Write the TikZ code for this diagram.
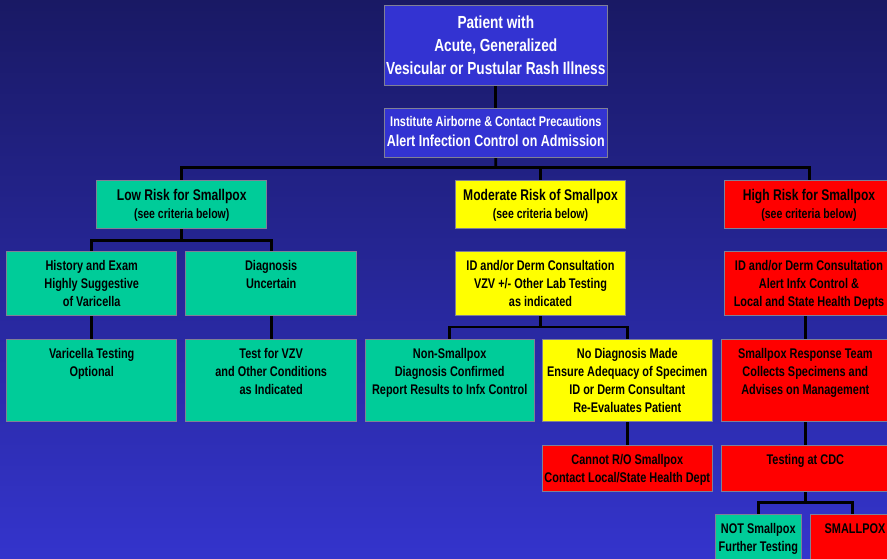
\documentclass[tikz,border=0pt]{standalone}
\usepackage{fontspec}
\newfontfamily\nar[FakeStretch=0.78]{Liberation Sans}
\definecolor{bgtop}{RGB}{25,25,100}
\definecolor{bgbot}{RGB}{52,52,204}
\definecolor{bluebox}{RGB}{51,51,210}
\definecolor{teal}{RGB}{0,204,153}
\definecolor{yel}{RGB}{255,255,0}
\definecolor{redb}{RGB}{255,0,0}
\definecolor{edge}{RGB}{128,128,150}
\newcommand\fsz[2]{\fontsize{#1}{#2}\selectfont\nar\bfseries}
\begin{document}
\begin{tikzpicture}[x=1pt,y=-1pt,
  box/.style={draw=edge, line width=0.8pt, inner sep=0pt, outer sep=0pt, anchor=north west},
  txt/.style={anchor=base, align=center, inner sep=0pt, text=black},
  conn/.style={line width=2.8pt, black},
  child/.style={font=\fsz{14}{18}}]
\useasboundingbox (0,0) rectangle (887,558);
\shade[top color=bgtop, bottom color=bgbot] (0,0) rectangle (887,558);

% boxes
\node[box, fill=bluebox, minimum width=223.7pt, minimum height=79.5pt] (top) at (384,5.5) {};
\node[box, fill=bluebox, minimum width=223.7pt, minimum height=49pt] (inst) at (384,108) {};
\node[box, fill=teal, minimum width=170pt, minimum height=47.5pt] (low) at (96.7,180.7) {};
\node[box, fill=yel, minimum width=170.4pt, minimum height=47.5pt] (mod) at (455.3,180.7) {};
\node[box, fill=redb, minimum width=170pt, minimum height=47.5pt] (high) at (724.3,180.7) {};
\node[box, fill=teal, minimum width=170pt, minimum height=64pt] (hist) at (6.7,251.7) {};
\node[box, fill=teal, minimum width=171pt, minimum height=64pt] (diagu) at (185.7,251.7) {};
\node[box, fill=yel, minimum width=170.4pt, minimum height=64pt] (modc) at (455.3,251.7) {};
\node[box, fill=redb, minimum width=170pt, minimum height=64pt] (highc) at (724.3,251.7) {};
\node[box, fill=teal, minimum width=170pt, minimum height=82.7pt] (var) at (6.7,339) {};
\node[box, fill=teal, minimum width=171pt, minimum height=82.7pt] (testv) at (185.7,339) {};
\node[box, fill=teal, minimum width=169.3pt, minimum height=82.7pt] (nons) at (365,339) {};
\node[box, fill=yel, minimum width=169.3pt, minimum height=82.7pt] (nod) at (542.7,339) {};
\node[box, fill=redb, minimum width=168pt, minimum height=82.7pt] (srt) at (721.3,339) {};
\node[box, fill=redb, minimum width=169.3pt, minimum height=46pt] (cannot) at (542.7,445) {};
\node[box, fill=redb, minimum width=168pt, minimum height=46pt] (cdc) at (721.3,445) {};
\node[box, fill=teal, minimum width=85.3pt, minimum height=50pt] (nots) at (715.7,514.3) {};
\node[box, fill=redb, minimum width=85.3pt, minimum height=50pt] (smallpox) at (810,514.3) {};

% connectors
\coordinate (bus) at (495.8,167.5);
\draw[conn] (top.south) -- (inst.north);
\draw[conn] (inst.south) -- (bus);
\draw[conn] (low.north) -- ++(0,-13.2) -| (high.north);
\draw[conn] (mod.north) -- (mod.north |- bus);
\draw[conn] (low.south) -- ++(0,12) coordinate (lowbus);
\draw[conn] (hist.north) |- (lowbus) -| (diagu.north);
\draw[conn] (hist.south) -- (var.north);
\draw[conn] (diagu.south) -- (testv.north);
\draw[conn] (modc.south) -- ++(0,11.3) coordinate (modbus);
\draw[conn] (nons.north) |- (modbus) -| (nod.north);
\draw[conn] (srt.north) -- (srt.north |- highc.south);
\draw[conn] (nod.south) -- (cannot.north);
\draw[conn] (srt.south) -- (cdc.north);
\draw[conn] (cdc.south) -- ++(0,11.3) coordinate (cdcbus);
\draw[conn] (nots.north) |- (cdcbus) -| (smallpox.north);
% redraw box edges over connector ends
\foreach \n in {top,inst,low,mod,high,hist,diagu,modc,highc,var,testv,nons,nod,srt,cannot,cdc,nots,smallpox}{
  \draw[draw=edge, line width=0.8pt] (\n.north west) rectangle (\n.south east);}

% texts (anchor=base is the baseline of the LAST line)
\node[txt, text=white, font=\fsz{17.5}{23}] (topT) at (495.8,74.3) {Patient with\\Acute, Generalized\\Vesicular or Pustular Rash Illness};
\node[txt, text=white, font=\fsz{14}{20}] (instT) at (495.8,146.7) {Institute Airborne \& Contact Precautions\\{\fsz{16}{20}Alert Infection Control on Admission}};
\node[txt, font=\fsz{15.5}{18}] (lowT) at (181.7,218.7) {Low Risk for Smallpox\\{\fsz{13.5}{18}(see criteria below)}};
\node[txt, font=\fsz{15.5}{18}] (modT) at (540.5,218.7) {Moderate Risk of Smallpox\\{\fsz{13.5}{18}(see criteria below)}};
\node[txt, font=\fsz{15.5}{18}] (highT) at (809,218.7) {High Risk for Smallpox\\{\fsz{13.5}{18}(see criteria below)}};
\node[txt, child] (histT) at (91.7,306) {History and Exam\\Highly Suggestive\\of Varicella};
\node[txt, child] (diaguT) at (271.2,288) {Diagnosis\\Uncertain};
\node[txt, child] (modcT) at (540.5,306) {ID and/or Derm Consultation\\VZV +/- Other Lab Testing\\as indicated};
\node[txt, child] (highcT) at (809,306) {ID and/or Derm Consultation\\Alert Infx Control \&\\Local and State Health Depts};
\node[txt, child] (varT) at (91.7,376.3) {Varicella Testing\\Optional};
\node[txt, child] (testvT) at (271.2,394.3) {Test for VZV\\and Other Conditions\\as Indicated};
\node[txt, child] (nonsT) at (449.7,394.3) {Non-Smallpox\\Diagnosis Confirmed\\Report Results to Infx Control};
\node[txt, child] (nodT) at (627.3,412.3) {No Diagnosis Made\\Ensure Adequacy of Specimen\\ID or Derm Consultant\\Re-Evaluates Patient};
\node[txt, child] (srtT) at (805.3,394.3) {Smallpox Response Team\\Collects Specimens and\\Advises on Management};
\node[txt, child] (cannotT) at (627.3,482) {Cannot R/O Smallpox\\Contact Local/State Health Dept};
\node[txt, child] (cdcT) at (805.3,464) {Testing at CDC};
\node[txt, child] (notsT) at (758.3,551.3) {NOT Smallpox\\Further Testing};
\node[txt, child] (smallpoxT) at (855,533.3) {SMALLPOX};
\end{tikzpicture}
\end{document}
